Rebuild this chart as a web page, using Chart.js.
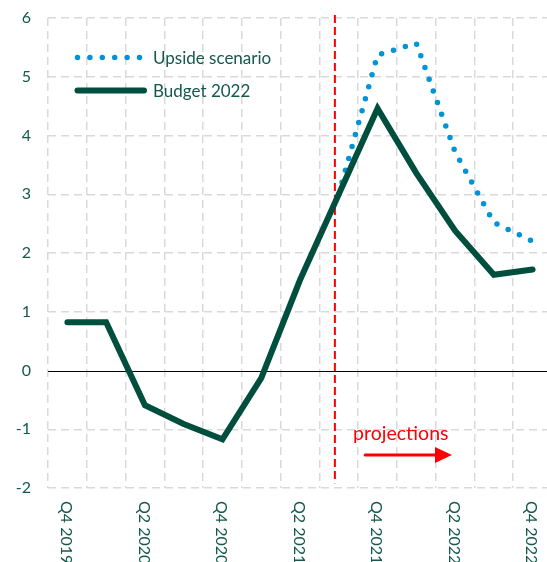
<!DOCTYPE html>
<html>
<head>
<meta charset="utf-8">
<script src="https://cdn.jsdelivr.net/npm/chart.js@4"></script>
<style>
html, body { margin: 0; padding: 0; overflow: hidden; background: #fff; }
canvas { display: block; }
</style>
</head>
<body>
<canvas id="chart" width="556" height="562"></canvas>
<script>
const quarters = ["Q4 2019","Q1 2020","Q2 2020","Q3 2020","Q4 2020","Q1 2021","Q2 2021","Q3 2021","Q4 2021","Q1 2022","Q2 2022","Q3 2022","Q4 2022"]
const budget2022 = [0.82, 0.82, -0.59, -0.91, -1.17, -0.13, 1.54, 3.0, 4.46, 3.36, 2.38, 1.63, 1.72]
const upsideScenario = [null, null, null, null, null, null, null, 3.0, 5.37, 5.57, 3.72, 2.52, 2.2]
const yTicks = [-2, -1, 0, 1, 2, 3, 4, 5, 6]
const projectionStart = 6.9   // category index where the projections begin

const green = "#004F3E"
const textGreen = "#14594A"
const blue = "#0093D8"

Chart.defaults.font.family = "Lato"

const extras = {
    id: "extras",
    beforeDatasetsDraw(chart) {
        const ctx = chart.ctx
        const xs = chart.scales.x, ys = chart.scales.y, area = chart.chartArea
        ctx.save()
        // zero line
        const y0 = Math.round(ys.getPixelForValue(0)) + 0.5
        ctx.strokeStyle = "#000"
        ctx.lineWidth = 1
        ctx.beginPath()
        ctx.moveTo(area.left, y0)
        ctx.lineTo(area.right, y0)
        ctx.stroke()
        // start of projections
        const px = xs.getPixelForValue(projectionStart)
        ctx.strokeStyle = "#FF0000"
        ctx.lineWidth = 2
        ctx.setLineDash([8, 4])
        ctx.beginPath()
        ctx.moveTo(px, area.top - 3)
        ctx.lineTo(px, ys.getPixelForValue(-1.92))
        ctx.stroke()
        ctx.restore()
    },
    afterDraw(chart) {
        const ctx = chart.ctx
        const xs = chart.scales.x, ys = chart.scales.y, area = chart.chartArea
        ctx.save()

        // x labels, every other quarter, turned clockwise
        ctx.fillStyle = textGreen
        ctx.font = "16px Lato"
        ctx.textAlign = "left"
        ctx.textBaseline = "middle"
        quarters.forEach((q, i) => {
            if (i % 2 != 0) return
            ctx.save()
            ctx.translate(xs.getPixelForValue(i) - 1, area.bottom + 13)
            ctx.rotate(Math.PI / 2)
            ctx.fillText(q, 0, 0)
            ctx.restore()
        })

        // legend
        const rows = [57.5, 90.5]
        chart.data.datasets.forEach((ds, i) => {
            const y = rows[i]
            ctx.strokeStyle = ds.borderColor
            ctx.lineWidth = ds.borderWidth
            ctx.lineCap = "round"
            ctx.setLineDash(ds.borderDash || [])
            ctx.beginPath()
            ctx.moveTo(77.5, y)
            ctx.lineTo(i == 0 ? 142 : 144, y)
            ctx.stroke()
            ctx.setLineDash([])
            ctx.fillStyle = textGreen
            ctx.font = "17px Lato"
            ctx.textAlign = "left"
            ctx.textBaseline = "middle"
            ctx.fillText(ds.label, 153, y + 1)
        })

        // projections note
        ctx.fillStyle = "#FF0000"
        ctx.font = "19.5px Lato"
        ctx.textBaseline = "middle"
        ctx.fillText("projections", xs.getPixelForValue(7.37), ys.getPixelForValue(-1.07))
        const ay = ys.getPixelForValue(-1.44)
        const ax0 = xs.getPixelForValue(7.68), ax1 = xs.getPixelForValue(9.92)
        ctx.strokeStyle = "#FF0000"
        ctx.lineWidth = 3
        ctx.beginPath()
        ctx.moveTo(ax0, ay)
        ctx.lineTo(ax1 - 15, ay)
        ctx.stroke()
        ctx.beginPath()
        ctx.moveTo(ax1, ay)
        ctx.lineTo(ax1 - 17, ay - 8)
        ctx.lineTo(ax1 - 17, ay + 8)
        ctx.closePath()
        ctx.fill()

        ctx.restore()
    }
}

const chart = new Chart(document.getElementById("chart"), {
    type: "line",
    data: {
        labels: quarters,
        datasets: [{
            label: "Upside scenario",
            data: upsideScenario,
            borderColor: blue,
            borderWidth: 5.5,
            borderDash: [0, 12.4],
            borderCapStyle: "round",
            pointRadius: 0,
            tension: 0,
            order: 1
        }, {
            label: "Budget 2022",
            data: budget2022,
            borderColor: green,
            borderWidth: 6,
            borderCapStyle: "round",
            pointRadius: 0,
            tension: 0,
            order: 0
        }]
    },
    options: {
        responsive: false,
        animation: false,
        layout: { padding: { top: 18, bottom: 74, left: 0, right: 4 } },
        plugins: { legend: { display: false }, tooltip: { enabled: false } },
        scales: {
            x: {
                offset: true,
                grid: { offset: true, color: "#D9D9D9", lineWidth: 1.5, drawTicks: false },
                border: { display: false, dash: [8, 5] },
                ticks: { display: false },
                afterFit: s => { s.height = 0 }
            },
            y: {
                min: -2,
                max: 6,
                afterBuildTicks: s => { s.ticks = yTicks.map(v => ({ value: v })) },
                grid: {
                    color: c => (c.tick && c.tick.value == 0) ? "rgba(0,0,0,0)" : "#D9D9D9",
                    lineWidth: 1.5,
                    drawTicks: false
                },
                border: { display: false, dash: [8, 5] },
                ticks: { color: textGreen, font: { size: 16 }, padding: 17 },
                afterFit: s => {
                    s.width = 48
                    s.paddingTop = 0
                    s.paddingBottom = 0
                }
            }
        }
    },
    plugins: [extras]
})
</script>
</body>
</html>
